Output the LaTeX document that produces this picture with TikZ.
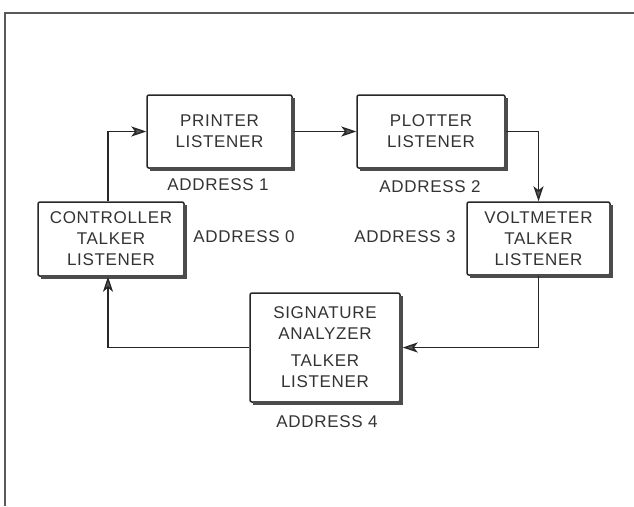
\documentclass[tikz,border=0pt]{standalone}
\usepackage{fontspec}
\setmainfont{Liberation Sans}[LetterSpace=4]
\usetikzlibrary{arrows.meta}
\begin{document}
\begin{tikzpicture}[x=1pt,y=-1pt,
  txt/.style={font=\fontsize{17}{21}\selectfont, text=black!80},
  box/.style={txt, draw=black!85, line width=1.5pt, rounded corners=2pt, align=center, inner sep=0pt},
  lbl/.style={txt, inner sep=0pt},
  conn/.style={line width=1.3pt, draw=black!85},
  arr/.style={conn, -{Stealth[length=15pt,width=10pt,inset=4pt,fill=black!65]}},
  shadeline/.style={line width=4pt, draw=black!70}]
\useasboundingbox (0,0) rectangle (634,506);
\draw[line width=2.5pt, black!65] (5,506) -- (5,13) -- (634,13);

\node[box, minimum width=145pt, minimum height=73pt] (pr) at (219.5,131.5) {PRINTER\\LISTENER};
\node[box, minimum width=148pt, minimum height=73pt] (pl) at (431,131.5) {PLOTTER\\LISTENER};
\node[box, minimum width=146pt, minimum height=74pt] (co) at (111,239) {CONTROLLER\\TALKER\\LISTENER};
\node[box, minimum width=143pt, minimum height=73pt] (vo) at (538.5,238.5) {VOLTMETER\\TALKER\\LISTENER};
\node[box, minimum width=150pt, minimum height=109pt] (si) at (325,347.5) {SIGNATURE\\ANALYZER\\[6pt]TALKER\\LISTENER};

\foreach \n in {pr,pl,co,vo,si}
  \draw[shadeline] ([yshift=-4pt]\n.north east) -- (\n.south east) -- ([xshift=4pt]\n.south west);

\node[lbl] (a1) at (218,185) {ADDRESS 1};
\node[lbl] (a2) at (430,187) {ADDRESS 2};
\node[lbl] (a0) at (244,237) {ADDRESS 0};
\node[lbl] (a3) at (405,237) {ADDRESS 3};
\node[lbl] (a4) at (327,422) {ADDRESS 4};

\draw[arr] ([xshift=-3pt]co.north) |- (pr.west);
\draw[arr] (pr.east) -- (pl.west);
\draw[arr] (pl.east) -| (vo.north);
\draw[arr] (vo.south) |- ([xshift=2pt]si.east);
\draw[arr] (si.west) -| ([xshift=-3pt]co.south);
\end{tikzpicture}
\end{document}
